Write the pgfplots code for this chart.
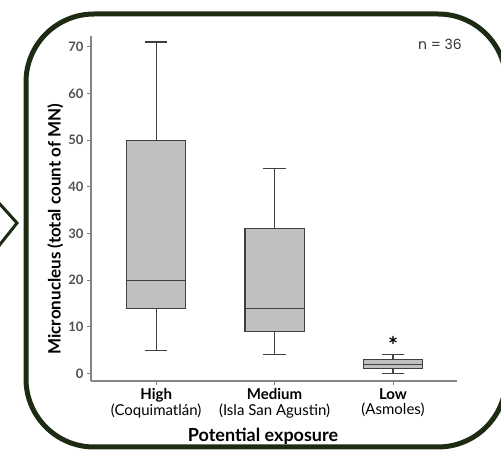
\documentclass[border=0pt]{standalone}
\usepackage{fontspec}
\setmainfont{Lato}
\newfontfamily\popfont{Poppins}
\usepackage{pgfplots}
\pgfplotsset{compat=1.18}
\usepgfplotslibrary{statistics}
\definecolor{frame}{HTML}{1C2B12}
\definecolor{boxfill}{HTML}{C0C0C0}
\definecolor{boxline}{HTML}{3F3F3F}
\definecolor{axgray}{HTML}{858585}
\definecolor{numgray}{HTML}{505050}

\begin{document}
\begin{tikzpicture}
\useasboundingbox (0pt,0pt) rectangle (501pt,452pt);
% speech-bubble frame
\draw[frame,line width=5pt,rounded corners=68pt] (26pt,5pt) rectangle (506pt,438pt);
\draw[frame,line width=3pt,line join=miter] (-2pt,250pt) -- (17pt,229pt) -- (-2pt,205pt);

\begin{axis}[
  at={(91pt,71pt)},anchor=south west,
  scale only axis,width=366pt,height=345pt,
  xmin=0.45,xmax=3.54,ymin=-1.6,ymax=72.3,
  boxplot/draw direction=y,
  axis x line*=bottom,axis y line*=left,
  axis line style={draw=axgray,line width=1.3pt,-},
  tick style={draw=axgray,line width=1pt},
  tick align=outside,major tick length=4pt,
  xtick={1,2,3},
  xticklabels={{\textbf{High}\\(Coquimatlán)},{\textbf{Medium}\\(Isla San Agustin)},{\textbf{Low}\\(Asmoles)}},
  xticklabel style={align=center,font=\fontsize{15}{15.5}\selectfont,text=black},
  ytick={0,10,...,70},
  yticklabel style={font=\fontsize{13}{14}\selectfont\bfseries,text=numgray},
  /pgf/number format/assume math mode=true,
  xlabel={\textbf{Potential exposure}},
  xlabel style={font=\fontsize{18}{20}\selectfont,at={(axis description cs:0.47,0)},anchor=north,yshift=-44pt},
  ylabel={\textbf{Micronucleus (total count of MN)}},
  ylabel style={font=\fontsize{17}{18}\selectfont,at={(axis description cs:-0.066,0.44)},anchor=south},
  clip=false,
]
\addplot[boxplot/draw direction=y,boxplot prepared={lower whisker=5,lower quartile=14,median=20,upper quartile=50,upper whisker=71,draw position=1,box extend=0.5,whisker extend=0.19},fill=boxfill,draw=boxline,line width=1.2pt] coordinates {};
\addplot[boxplot/draw direction=y,boxplot prepared={lower whisker=4,lower quartile=9,median=14,upper quartile=31,upper whisker=44,draw position=2,box extend=0.5,whisker extend=0.19},fill=boxfill,draw=boxline,line width=1.2pt] coordinates {};
\addplot[boxplot/draw direction=y,boxplot prepared={lower whisker=0,lower quartile=1,median=2,upper quartile=3,upper whisker=4,draw position=3,box extend=0.5,whisker extend=0.19},fill=boxfill,draw=boxline,line width=1.2pt] coordinates {};
\addplot[only marks,mark=asterisk,mark size=4pt,mark options={draw=black,line width=1.1pt}] coordinates {(3,7.2)};
\end{axis}
\node[font=\popfont\fontsize{14}{16}\selectfont,text=black!80] at (440pt,408pt) {n = 36};
\end{tikzpicture}
\end{document}
